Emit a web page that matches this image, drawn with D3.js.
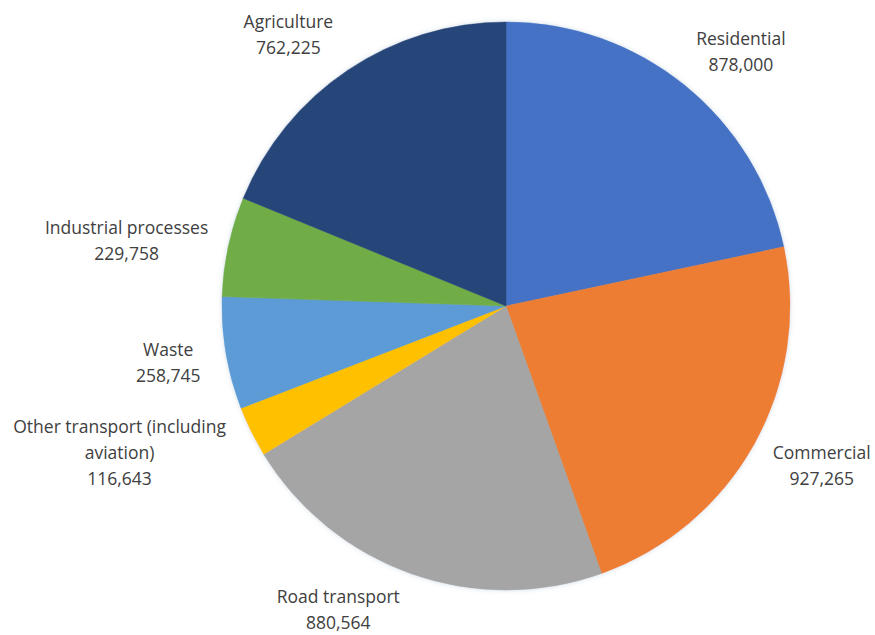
<!DOCTYPE html>
<html>
<head>
<meta charset="utf-8">
<script src="https://cdn.jsdelivr.net/npm/d3@7/dist/d3.min.js"></script>
<style>
  html, body { margin: 0; padding: 0; background: #fff; }
  svg { display: block; }
</style>
</head>
<body>
<svg id="chart" width="875" height="635"></svg>
<script>
// ---- data ----
const categories = ["Residential", "Commercial", "Road transport", "Other transport (including aviation)", "Waste", "Industrial processes", "Agriculture"];
const values = [878000, 927265, 880564, 116643, 258745, 229758, 762225];
const colors = ["#4472C4", "#ED7D31", "#A5A5A5", "#FFC000", "#5B9BD5", "#70AD47", "#264478"];
// label text lines (category name wrapped as in the original)
const labelLines = [["Residential"], ["Commercial"], ["Road transport"], ["Other transport (including", "aviation)"], ["Waste"], ["Industrial processes"], ["Agriculture"]];
// small label nudges (px) relative to the outside-end position
const labelNudge = [[23, -7], [18, 5], [-50, 4], [-29, 0], [-18, 4], [-14, 2], [-30, -7]];

// ---- layout ----
const W = 875, H = 635;
const cx = 506, cy = 306, R = 284;
const gap = 8, lineH = 26;
const fmt = d3.format(",");

const svg = d3.select("#chart");
const defs = svg.append("defs");
const f = defs.append("filter").attr("id", "shadow").attr("x", "-10%").attr("y", "-10%").attr("width", "120%").attr("height", "120%");
f.append("feDropShadow").attr("dx", 0).attr("dy", 0).attr("stdDeviation", 2.5)
  .attr("flood-color", "#7f9fbf").attr("flood-opacity", 0.35);

const data = categories.map((c, i) => ({ cat: c, value: values[i], color: colors[i], lines: labelLines[i], nudge: labelNudge[i] }));

const pie = d3.pie().value(d => d.value).sort(null);
const arcs = pie(data);
const arc = d3.arc().innerRadius(0).outerRadius(R);

const g = svg.append("g").attr("transform", `translate(${cx},${cy})`);
g.append("g").attr("filter", "url(#shadow)")
  .selectAll("path").data(arcs).join("path")
  .attr("d", arc)
  .attr("fill", d => d.data.color)
  .attr("stroke", d => d.data.color)
  .attr("stroke-width", 0.5);

// labels
const lg = svg.append("g")
  .attr("font-family", "'Open Sans', 'Noto Sans', sans-serif")
  .attr("font-size", 17.5)
  .attr("fill", "#404040");

arcs.forEach(a => {
  const mid = (a.startAngle + a.endAngle) / 2;
  const ux = Math.sin(mid), uy = -Math.cos(mid);
  const lines = a.data.lines.concat([fmt(a.data.value)]);
  const t = lg.append("text").attr("text-anchor", "middle");
  lines.forEach((l, i) => t.append("tspan").attr("x", 0).attr("y", i * lineH).text(l));
  const bb = t.node().getBBox();
  const w = bb.width, h = lines.length * lineH;
  const px = cx + (R + gap) * ux, py = cy + (R + gap) * uy;
  const bx = px + ux * w / 2 + a.data.nudge[0];
  const by = py + uy * h / 2 + a.data.nudge[1];
  const firstY = by - (lines.length - 1) * lineH / 2;
  t.attr("transform", `translate(${bx},${firstY})`);
  t.selectAll("tspan").attr("dy", "0.35em");
});
</script>
</body>
</html>
